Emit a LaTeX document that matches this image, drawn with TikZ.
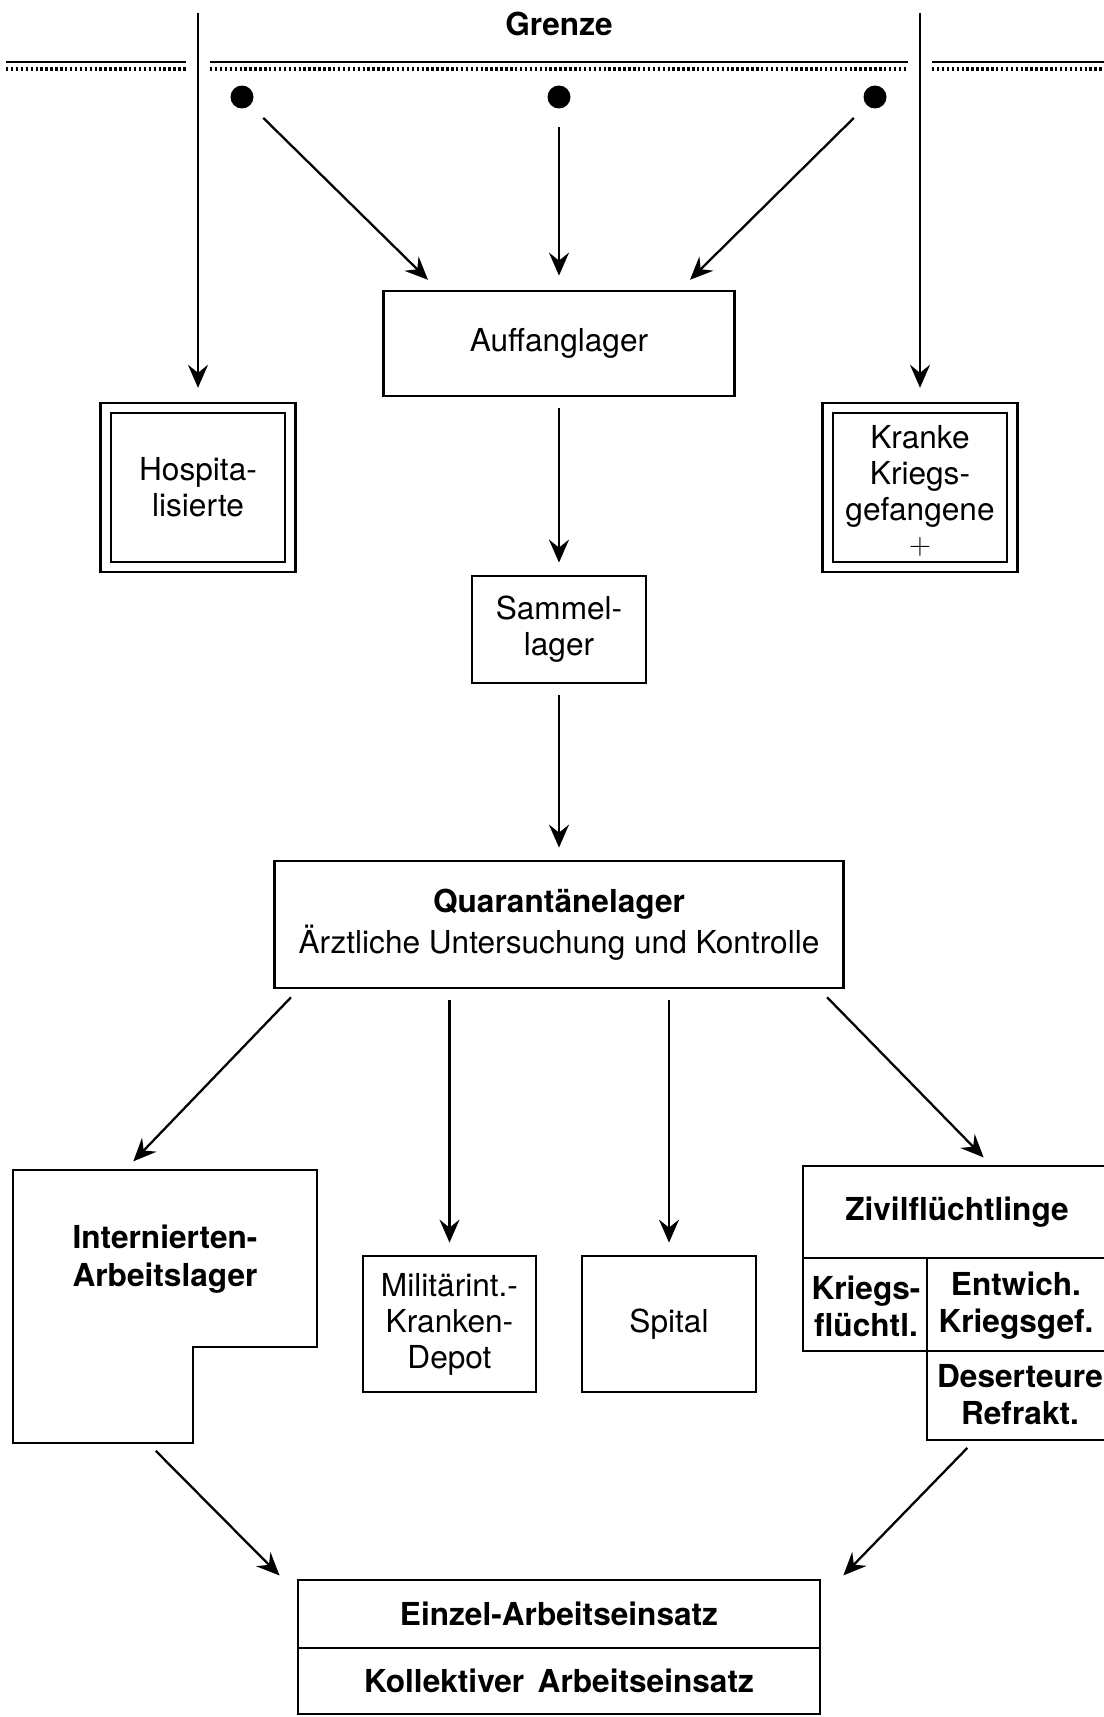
\documentclass[tikz,border=0pt]{standalone}
\usepackage{fontspec}
\setmainfont{TeX Gyre Heros}
\usetikzlibrary{arrows.meta}
\newcommand{\lagerfont}{\fontsize{18}{20.5}\selectfont}
\newcommand{\fettfont}{\fontsize{18}{21}\selectfont\bfseries}

\begin{document}
\begin{tikzpicture}[x=0.02cm,y=-0.02cm,line join=miter,
  box/.style={draw,line width=1.6pt,inner sep=0pt,align=center,font=\lagerfont},
  dbox/.style={box,double,double distance=0.16cm,line width=1.4pt},
  bold/.style={align=center,font=\fettfont},
  wall/.style={line width=1.6pt},
  arr/.style={line width=1.3pt,-{Stealth[length=0.46cm,width=0.4cm,inset=0.16cm]},
    shorten <=0.22cm,shorten >=0.24cm},
  dot/.style={circle,fill,inner sep=0pt,minimum size=0.46cm}]
  \useasboundingbox (0,0) rectangle (1104,1717);
  \node[bold] (grenze) at (559,24) {Grenze};
  \foreach \a/\b in {6/186,210/908,932/1104}{
    \draw[line width=1.6pt] (\a,62) -- (\b,62);
    \draw[line width=1.8pt,dash pattern=on 1.4pt off 1.4pt] (\a,69) -- (\b,69);
  }
  \node[dot] (dotL) at (242,97) {};
  \node[dot] (dotM) at (559,97) {};
  \node[dot] (dotR) at (875,97) {};
  \coordinate (topL) at (198,13);
  \coordinate (topR) at (920,13);
  \node[box,minimum width=7.02cm,minimum height=2.1cm] (auff) at (559,343.5) {Auffanglager};
  \node[box,minimum width=3.48cm,minimum height=2.14cm] (sammel) at (559,629.5) {Sammel-\\lager};
  \node[dbox,minimum width=3.69cm,minimum height=3.18cm] (hosp) at (198,487.5) {Hospita-\\lisierte};
  \node[dbox,minimum width=3.69cm,minimum height=3.18cm] (kranke) at (920,487.5)
    {\rule{0pt}{17pt}Kranke\\Kriegs-\\gefangene\\[-1pt]$+$};
  \node[box,minimum width=11.38cm,minimum height=2.54cm] (quar) at (559,924.5)
    {\textbf{Quarantänelager}\\[3pt]Ärztliche Untersuchung und Kontrolle};
  \draw[wall] (13,1170) -- (317,1170) -- (317,1347) -- (193,1347) -- (193,1443) -- (13,1443) -- cycle;
  \node[bold,font=\fontsize{18}{22}\selectfont\bfseries] (intern) at (165,1259) {Internierten-\\Arbeitslager};
  \coordinate (internN) at (125,1170);
  \coordinate (internS) at (148,1443);
  \node[box,minimum width=3.46cm,minimum height=2.72cm] (milit) at (449.5,1324) {Militärint.-\\Kranken-\\Depot};
  \node[box,minimum width=3.48cm,minimum height=2.72cm] (spital) at (669,1324) {Spital};
  \draw[wall] (1104,1166) -- (803,1166) -- (803,1351) -- (1104,1351);
  \draw[wall] (803,1258) -- (1104,1258);
  \draw[wall] (927,1258) -- (927,1440) -- (1104,1440);
  \node[bold] (zivil) at (957,1212) {Zivilflüchtlinge};
  \node[bold] (kriegsfl) at (866,1306) {Kriegs-\\flüchtl.};
  \node[bold] (entwich) at (1016,1306) {Entwich.\\Kriegsgef.};
  \node[bold] (desert) at (1020,1395) {Deserteure\\Refrakt.};
  \coordinate (zivilN) at (992,1166);
  \coordinate (desertS) at (975,1440);
  \node[box,font=\fettfont,minimum width=10.44cm,minimum height=1.36cm] (einzel) at (559,1614) {Einzel-Arbeitseinsatz};
  \node[box,font=\fettfont,minimum width=10.44cm,minimum height=1.32cm] (koll) at (559,1681) {Kollektiver\hspace{0.15em} Arbeitseinsatz};
  \coordinate (einzelL) at (288,1584);
  \coordinate (einzelR) at (835,1584);
  \draw[arr,shorten <=0pt,shorten >=0.38cm] (topL) -- (hosp);
  \draw[arr,shorten <=0pt,shorten >=0.38cm] (topR) -- (kranke);
  \draw[arr,shorten <=0.36cm,shorten >=0.28cm] (dotL) -- (auff.156);
  \draw[arr,shorten <=0.36cm,shorten >=0.28cm] (dotM) -- (auff);
  \draw[arr,shorten <=0.36cm,shorten >=0.28cm] (dotR) -- (auff.24);
  \draw[arr] (auff) -- (sammel);
  \draw[arr] (sammel) -- (quar);
  \draw[arr] (quar.194) -- (internN);
  \draw[arr] (quar.south -| milit) -- (milit);
  \draw[arr] (quar.south -| spital) -- (spital);
  \draw[arr] (quar.346) -- (zivilN);
  \draw[arr] (internS) -- (einzelL);
  \draw[arr] (desertS) -- (einzelR);
\end{tikzpicture}
\end{document}
